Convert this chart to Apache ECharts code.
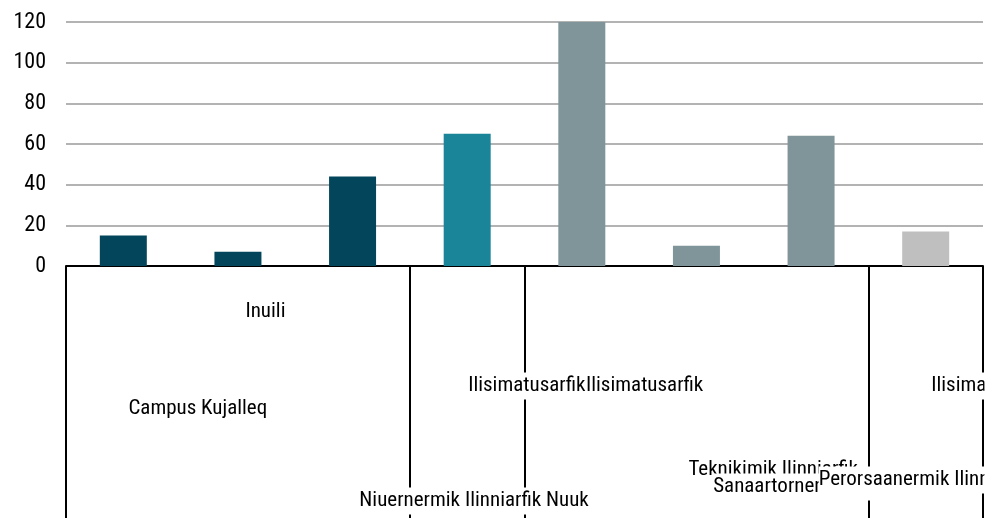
<!DOCTYPE html>
<html>
<head>
<meta charset="utf-8">
<script src="https://cdn.jsdelivr.net/npm/echarts@6/dist/echarts.min.js"></script>
<style>
html, body { margin: 0; padding: 0; background: #fff; }
#chart { width: 995px; height: 518px; }
</style>
</head>
<body>
<div id="chart"></div>
<script>
// bars
const categories = ['Campus Kujalleq A', 'Campus Kujalleq B', 'Inuili', 'Niuernermik Ilinniarfik Nuuk',
  'Ilisimatusarfik A', 'Ilisimatusarfik B', 'Teknikimik / Sanaartornermik Ilinniarfik', 'Perorsaanermik Ilinniarfik']
const values = [15, 7, 44, 65, 120, 10, 64, 17]
const yTicks = [0, 20, 40, 60, 80, 100, 120]
const barColors = ['#03465b', '#03465b', '#03465b', '#1a8499', '#7f9599', '#7f9599', '#7f9599', '#bfbfbf']

// group labels under the axis and the category boundaries between the groups
const groupLabels = ['Inuili', 'Campus Kujalleq', 'Ilisimatusarfik', 'Ilisimatusarfik', 'Niuernermik Ilinniarfik Nuuk',
  'Teknikimik Ilinniarfik', 'Sanaartornermik Ilinniarfik', 'Perorsaanermik Ilinniarfik', 'Ilisimatusarfik']
const groupBreaks = [0, 3, 4, 7]

// where each group label sits: [category position, px below the axis]
const labelPlace = [[1.24, 46], [0.65, 143], [3.52, 120], [4.548, 120], [3.06, 235],
  [5.67, 204], [6.1, 221], [6.99, 214], [7.56, 120]]

const FONT = "'Roboto Condensed', 'Liberation Sans Narrow', sans-serif"

const chart = echarts.init(document.getElementById('chart'))
chart.setOption({
  animation: false,
  grid: { left: 66, right: 12, top: 22, bottom: 252, containLabel: false },
  xAxis: {
    type: 'category',
    data: categories,
    axisLine: { lineStyle: { color: '#000', width: 2 } },
    axisTick: {
      show: true,
      length: 260,
      interval: (i) => groupBreaks.includes(i),
      lineStyle: { color: '#000', width: 2 }
    },
    axisLabel: { show: false }
  },
  yAxis: {
    type: 'value',
    min: yTicks[0],
    max: yTicks[yTicks.length - 1],
    interval: 20,
    axisLine: { show: false },
    axisTick: { show: false },
    axisLabel: { fontFamily: FONT, fontSize: 22, color: '#000', margin: 20 },
    splitLine: { lineStyle: { color: '#9a9a9a', width: 1.6 } }
  },
  series: [{
    type: 'bar',
    barWidth: '41%',
    data: values.map((v, i) => ({ value: v, itemStyle: { color: barColors[i] } }))
  }]
})

// place the group labels through the axis scale
const c0 = chart.convertToPixel({ xAxisIndex: 0 }, 0)
const step = chart.convertToPixel({ xAxisIndex: 0 }, 1) - c0
const y0 = chart.convertToPixel({ yAxisIndex: 0 }, 0)
const right = c0 + step * (categories.length - 0.5)

const elements = groupLabels.map((t, i) => ({
  type: 'text',
  z: 100,
  x: c0 + labelPlace[i][0] * step,
  y: y0 + labelPlace[i][1],
  style: {
    text: t,
    fontFamily: FONT,
    fontSize: 21,
    fill: '#000',
    align: 'center',
    verticalAlign: 'middle',
    backgroundColor: '#fff',
    padding: [3, 0]
  }
}))
elements.push({
  type: 'rect',
  z: 200,
  shape: { x: right + 1.5, y: 0, width: chart.getWidth() - right, height: chart.getHeight() },
  style: { fill: '#fff' }
})
chart.setOption({ graphic: { elements: elements } })
</script>
</body>
</html>
